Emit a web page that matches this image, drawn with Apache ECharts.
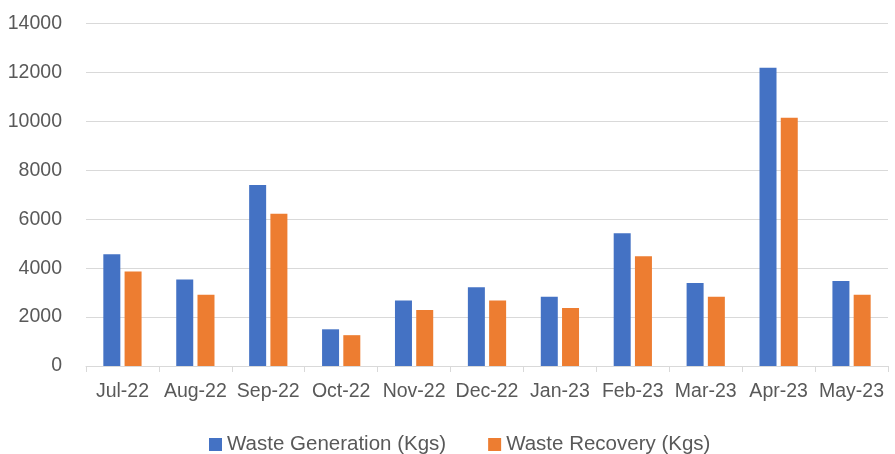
<!DOCTYPE html>
<html>
<head>
<meta charset="utf-8">
<script src="https://cdn.jsdelivr.net/npm/echarts@6/dist/echarts.min.js"></script>
<style>
html,body{margin:0;padding:0;background:#fff;}
#chart{width:895px;height:454px;}
</style>
</head>
<body>
<div id="chart"></div>
<script>
const categories = ['Jul-22','Aug-22','Sep-22','Oct-22','Nov-22','Dec-22','Jan-23','Feb-23','Mar-23','Apr-23','May-23'];
const wasteGeneration = [4570, 3540, 7400, 1500, 2680, 3220, 2830, 5430, 3390, 12190, 3470];
const wasteRecovery = [3860, 2910, 6220, 1260, 2290, 2680, 2370, 4490, 2830, 10150, 2910];
const yTicks = {min: 0, max: 14000, interval: 2000};

const chart = echarts.init(document.getElementById('chart'));
const fontFamily = '"Liberation Sans", Arial, sans-serif';
chart.setOption({
  animation: false,
  backgroundColor: '#ffffff',
  grid: {left: 86, right: 7, top: 23.5, bottom: 88, containLabel: false},
  legend: {
    top: 429,
    left: 204,
    itemWidth: 13,
    itemHeight: 13,
    itemGap: 42,
    icon: 'rect',
    textStyle: {fontFamily: fontFamily, fontSize: 20.5, color: '#595959'},
    data: ['Waste Generation (Kgs)', 'Waste Recovery (Kgs)']
  },
  xAxis: {
    type: 'category',
    data: categories,
    axisLine: {show: true, lineStyle: {color: '#d9d9d9', width: 1}},
    axisTick: {show: true, length: 6, lineStyle: {color: '#d9d9d9'}},
    axisLabel: {fontFamily: fontFamily, fontSize: 19.5, color: '#595959', margin: 16, interval: 0}
  },
  yAxis: {
    type: 'value',
    min: yTicks.min,
    max: yTicks.max,
    interval: yTicks.interval,
    axisLine: {show: false},
    axisTick: {show: false},
    splitLine: {lineStyle: {color: '#d9d9d9', width: 1}},
    axisLabel: {fontFamily: fontFamily, fontSize: 19.5, color: '#595959', margin: 24, formatter: function (v) { return String(v); }}
  },
  series: [
    {
      name: 'Waste Generation (Kgs)',
      type: 'bar',
      data: wasteGeneration,
      itemStyle: {color: '#4472C4'},
      barWidth: 17,
      barGap: '25%'
    },
    {
      name: 'Waste Recovery (Kgs)',
      type: 'bar',
      data: wasteRecovery,
      itemStyle: {color: '#ED7D31'},
      barWidth: 17,
      barGap: '25%'
    }
  ]
});
</script>
</body>
</html>
